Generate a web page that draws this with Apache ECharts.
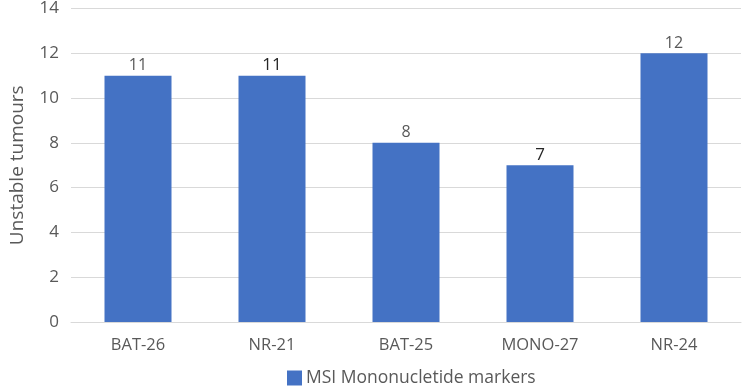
<!DOCTYPE html>
<html><head><meta charset="utf-8">
<script src="https://cdn.jsdelivr.net/npm/echarts@6/dist/echarts.min.js"></script>
<style>html,body{margin:0;padding:0;background:#fff}#c{width:744px;height:387px}</style>
</head><body><div id="c"></div>
<script>
const categories = ["BAT-26", "NR-21", "BAT-25", "MONO-27", "NR-24"];
const values = [11, 11, 8, 7, 12];
const darkLabel = [false, true, false, true, false];
const yTicks = {min: 0, max: 14, interval: 2};
const seriesName = "MSI Mononucletide markers";
const yName = "Unstable tumours";

const FONT = "'Open Sans', 'Noto Sans', sans-serif";
const chart = echarts.init(document.getElementById('c'));
chart.setOption({
  animation: false,
  textStyle: {fontFamily: FONT},
  grid: {left: 65, right: 3, top: 7, bottom: 65},
  legend: {
    bottom: -5, left: 282, itemWidth: 15, itemHeight: 15, itemGap: 5,
    icon: 'rect',
    textStyle: {color: '#595959', fontSize: 17.5, fontFamily: FONT, padding: [0, 0, 0, -1]},
    data: [seriesName]
  },
  xAxis: {
    type: 'category', data: categories,
    axisLine: {lineStyle: {color: '#D9D9D9'}},
    axisTick: {show: false},
    axisLabel: {color: '#595959', fontSize: 16.5, margin: 15, fontFamily: FONT}
  },
  yAxis: {
    type: 'value', min: yTicks.min, max: yTicks.max, interval: yTicks.interval,
    name: yName, nameLocation: 'middle', nameGap: 44, nameRotate: 90,
    nameTextStyle: {color: '#595959', fontSize: 19, fontFamily: FONT},
    axisLine: {show: false}, axisTick: {show: false},
    axisLabel: {color: '#595959', fontSize: 17, margin: 12, fontFamily: FONT},
    splitLine: {lineStyle: {color: '#D9D9D9', width: 1}}
  },
  series: [{
    name: seriesName, type: 'bar', barWidth: '50%',
    itemStyle: {color: '#4472C4'},
    data: values.map((v, i) => ({
      value: v,
      label: darkLabel[i] ? {color: '#262626', fontSize: 17} : {color: '#595959', fontSize: 16}
    })),
    label: {show: true, position: 'top', distance: 2, fontFamily: FONT}
  }]
});
</script></body></html>
